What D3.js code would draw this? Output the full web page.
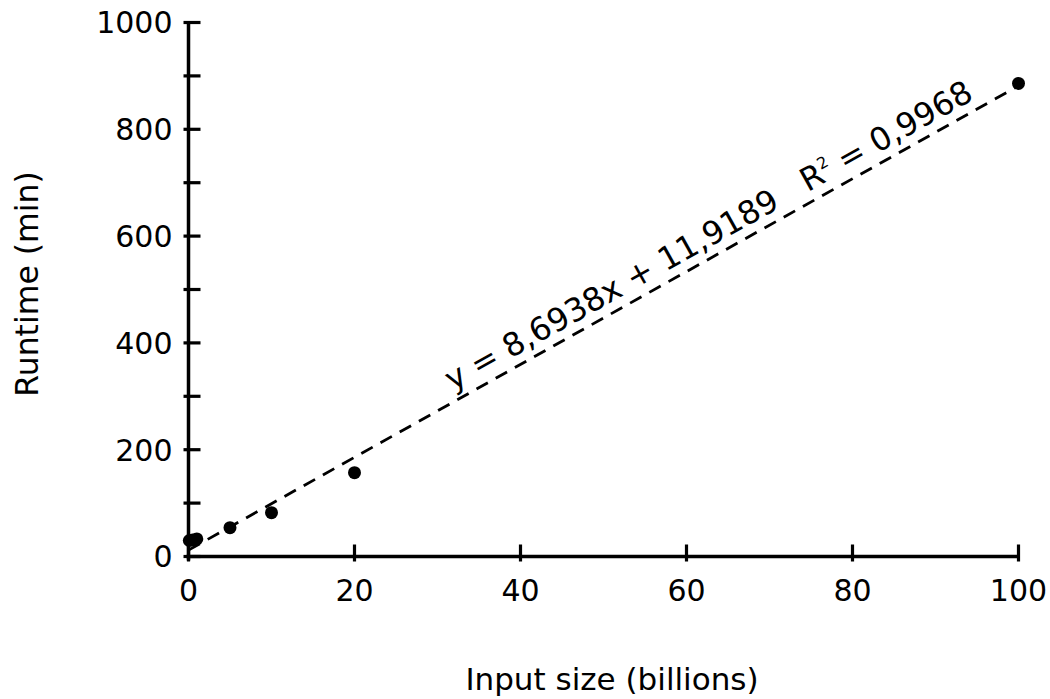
<!DOCTYPE html>
<html>
<head>
<meta charset="utf-8">
<script src="https://cdn.jsdelivr.net/npm/d3@7"></script>
<style>
  html, body { margin: 0; padding: 0; background: #fff; }
  svg text { font-family: "DejaVu Sans", "Open Sans", sans-serif; fill: #000; }
</style>
</head>
<body>
<svg id="chart" width="1050" height="699"></svg>
<script>
// ---- data ----
const inputSize = [0.1, 0.5, 1, 5, 10, 20, 100];          // billions
const runtime   = [30, 31, 33, 54, 82, 157, 886];          // minutes
const xTicks = [0, 20, 40, 60, 80, 100];
const yTicks = [0, 100, 200, 300, 400, 500, 600, 700, 800, 900, 1000];
const yLabelTicks = [0, 200, 400, 600, 800, 1000];
const slope = 8.6938;
const intercept = 11.9189;
const rSquared = "0,9968";
const eqText = "y = 8,6938x + 11,9189";
const xTitle = "Input size (billions)";
const yTitle = "Runtime (min)";

// ---- layout ----
const svg = d3.select("#chart");
const x = d3.scaleLinear().domain([0, 100]).range([188.5, 1018.5]);
const y = d3.scaleLinear().domain([0, 1000]).range([556.5, 22.5]);

// trend line
const trend = [0, 100].map(v => [v, slope * v + intercept]);
svg.append("path")
  .attr("d", d3.line().x(d => x(d[0])).y(d => y(d[1]))(trend))
  .attr("fill", "none")
  .attr("stroke", "#000")
  .attr("stroke-width", 2.8)
  .attr("stroke-dasharray", "13,9");

// axes
const xAxis = svg.append("g").attr("transform", `translate(0,${y(0)})`);
xAxis.append("line").attr("x1", x(0) - 2).attr("x2", x(100) + 1.5)
  .attr("stroke", "#000").attr("stroke-width", 3.5);
xAxis.selectAll("line.tick").data(xTicks).enter().append("line")
  .attr("class", "tick")
  .attr("x1", d => x(d)).attr("x2", d => x(d))
  .attr("y1", -12).attr("y2", 5)
  .attr("stroke", "#000").attr("stroke-width", 3.2);
xAxis.selectAll("text").data(xTicks).enter().append("text")
  .attr("x", d => x(d)).attr("y", 44)
  .attr("text-anchor", "middle")
  .attr("font-size", 30)
  .text(d => d);

const yAxis = svg.append("g").attr("transform", `translate(${x(0)},0)`);
yAxis.append("line").attr("y1", y(1000) - 1.5).attr("y2", y(0) + 4)
  .attr("stroke", "#000").attr("stroke-width", 3.5);
yAxis.selectAll("line.tick").data(yTicks).enter().append("line")
  .attr("class", "tick")
  .attr("y1", d => y(d)).attr("y2", d => y(d))
  .attr("x1", -5).attr("x2", 12)
  .attr("stroke", "#000").attr("stroke-width", 3.2);
yAxis.selectAll("text").data(yLabelTicks).enter().append("text")
  .attr("x", -16).attr("y", d => y(d))
  .attr("dy", "0.36em")
  .attr("text-anchor", "end")
  .attr("font-size", 30)
  .text(d => d);

// points
svg.selectAll("circle.pt").data(inputSize.map((v, i) => [v, runtime[i]]))
  .enter().append("circle")
  .attr("class", "pt")
  .attr("cx", d => x(d[0])).attr("cy", d => y(d[1]))
  .attr("r", 6.5).attr("fill", "#000");

// equation label along the trend line
const angle = Math.atan2(y(slope * 100 + intercept) - y(intercept), x(100) - x(0)) * 180 / Math.PI;
const startX = 32.4;
const lab = svg.append("text")
  .attr("transform", `translate(${x(startX)},${y(slope * startX + intercept)}) rotate(${angle})`)
  .attr("y", -10)
  .attr("font-size", 32)
  .attr("xml:space", "preserve")
  .style("white-space", "pre");
lab.append("tspan").text(eqText + "   R");
lab.append("tspan").attr("dy", -13).attr("font-size", 16).text("2");
lab.append("tspan").attr("dy", 13).text(" = " + rSquared);

// axis titles
svg.append("text")
  .attr("x", 612).attr("y", 690)
  .attr("text-anchor", "middle")
  .attr("font-size", 31)
  .text(xTitle);
svg.append("text")
  .attr("transform", `translate(38,284) rotate(-90)`)
  .attr("text-anchor", "middle")
  .attr("font-size", 31.5)
  .text(yTitle);
</script>
</body>
</html>
